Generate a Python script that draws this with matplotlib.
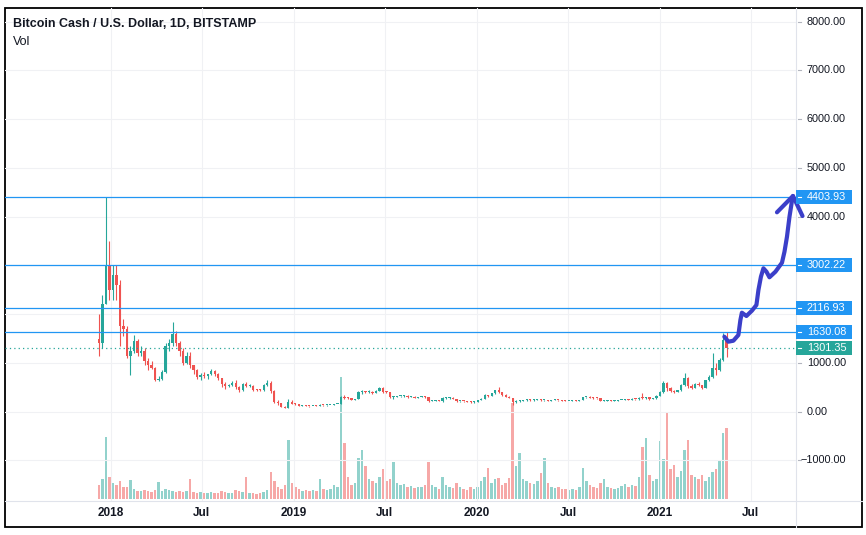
import matplotlib
matplotlib.use("Agg")
import matplotlib.pyplot as plt
import matplotlib.dates as mdates
from matplotlib.patches import Rectangle
import numpy as np
import pandas as pd

plt.rcParams['font.family'] = ['Liberation Sans', 'DejaVu Sans']

# weekly candles, first week starts Mon 4 Dec 2017
first_week = "2017-12-04"
first_open = 1500
closes = [1400, 2200, 3000, 2500, 2800, 2600, 1750, 1700, 1150, 1250,
          1450, 1200, 1250, 1050, 950, 900, 660, 680, 820, 1350,
          1400, 1600, 1400, 1250, 1000, 1150, 950, 850, 720, 760,
          740, 770, 830, 780, 690, 560, 530, 540, 580, 510,
          440, 560, 520, 520, 450, 445, 435, 540, 590, 420,
          200, 170, 105, 85, 190, 165, 155, 120, 125, 122,
          112, 122, 120, 135, 130, 132, 140, 160, 162, 300,
          290, 280, 250, 260, 400, 410, 400, 410, 390, 430,
          480, 410, 400, 300, 310, 315, 320, 330, 300, 310,
          290, 300, 310, 300, 215, 220, 225, 215, 280, 285,
          290, 265, 215, 215, 212, 200, 195, 205, 235, 270,
          345, 320, 380, 440, 400, 350, 310, 285, 200, 210,
          215, 230, 245, 240, 245, 255, 230, 240, 228, 240,
          245, 230, 228, 215, 220, 225, 222, 240, 295, 295,
          290, 280, 275, 220, 225, 230, 220, 222, 235, 245,
          260, 250, 260, 255, 290, 285, 295, 270, 280, 330,
          400, 580, 480, 420, 410, 440, 540, 700, 520, 490,
          560, 540, 490, 640, 720, 900, 850, 1060, 1470, 1301.35]
highs = [2000, 2400, 4404, 3500, 3000, 3000, 2700, 1900, 1750, 1350,
         1580, 1500, 1350, 1300, 1100, 1050, 920, 740, 850, 1400,
         1500, 1850, 1650, 1450, 1300, 1220, 1230, 960, 880, 790,
         820, 780, 880, 860, 800, 700, 600, 570, 620, 650,
         530, 580, 600, 560, 540, 470, 460, 560, 640, 620,
         440, 230, 180, 110, 260, 230, 175, 160, 135, 130,
         125, 125, 128, 155, 140, 135, 145, 165, 165, 330,
         340, 300, 285, 270, 420, 440, 430, 440, 420, 440,
         500, 510, 430, 410, 320, 330, 330, 345, 335, 320,
         315, 310, 320, 320, 305, 235, 235, 230, 295, 300,
         300, 295, 270, 225, 220, 215, 210, 215, 240, 275,
         370, 350, 390, 450, 500, 410, 355, 330, 290, 235,
         240, 240, 270, 255, 255, 270, 270, 250, 245, 245,
         260, 250, 240, 232, 225, 235, 230, 245, 310, 310,
         315, 300, 290, 280, 235, 240, 235, 230, 240, 250,
         270, 270, 275, 270, 300, 380, 310, 300, 290, 340,
         420, 630, 600, 510, 440, 450, 560, 790, 720, 560,
         580, 600, 550, 660, 750, 1200, 1000, 1100, 1610, 1641]
lows = [1150, 1300, 2200, 2300, 2300, 2300, 1350, 1550, 1100, 750,
        1200, 1150, 1150, 950, 850, 880, 620, 620, 640, 800,
        1250, 1350, 1350, 1150, 950, 980, 900, 780, 680, 660,
        700, 680, 760, 740, 640, 500, 470, 500, 520, 470,
        410, 420, 500, 500, 430, 420, 420, 420, 520, 380,
        180, 130, 100, 75, 80, 150, 140, 110, 115, 118,
        105, 110, 115, 118, 125, 124, 128, 138, 155, 160,
        270, 265, 240, 240, 255, 360, 380, 390, 370, 385,
        420, 390, 380, 290, 270, 300, 305, 310, 290, 295,
        285, 285, 295, 290, 200, 210, 210, 210, 205, 270,
        270, 255, 205, 195, 205, 195, 175, 185, 200, 230,
        265, 300, 315, 370, 380, 330, 300, 280, 140, 180,
        205, 210, 225, 225, 225, 235, 220, 215, 225, 220,
        235, 225, 220, 210, 210, 215, 220, 218, 235, 280,
        280, 270, 265, 210, 210, 220, 210, 215, 215, 230,
        240, 245, 235, 240, 250, 260, 270, 250, 260, 270,
        320, 390, 420, 400, 390, 400, 430, 530, 480, 470,
        480, 520, 470, 480, 620, 700, 750, 840, 1040, 1128]
# volume, arbitrary units (tallest spike = early April 2019)
volumes = [14, 20, 62, 22, 16, 14, 18, 12, 12, 19,
           10, 8, 8, 9, 8, 7, 9, 17, 8, 10,
           9, 8, 7, 8, 7, 8, 20, 7, 6, 7,
           6, 6, 7, 6, 6, 8, 7, 6, 6, 9,
           8, 7, 22, 6, 6, 5, 6, 7, 9, 27,
           18, 12, 10, 14, 59, 16, 12, 10, 8, 9,
           8, 9, 8, 20, 10, 9, 10, 14, 12, 122,
           56, 22, 14, 16, 41, 49, 33, 20, 18, 16,
           22, 30, 18, 20, 37, 16, 14, 15, 12, 13,
           11, 12, 12, 14, 37, 14, 12, 10, 22, 14,
           12, 11, 16, 12, 10, 9, 12, 10, 12, 18,
           22, 31, 16, 20, 21, 14, 16, 21, 96, 33,
           46, 20, 18, 16, 15, 18, 26, 41, 16, 12,
           11, 12, 10, 10, 9, 10, 9, 12, 31, 18,
           14, 12, 11, 16, 20, 12, 11, 10, 11, 13,
           15, 12, 14, 13, 22, 52, 61, 24, 18, 20,
           58, 40, 86, 30, 34, 22, 28, 49, 59, 24,
           22, 20, 24, 18, 22, 27, 30, 38, 66, 71]

level_lines = [4403.93, 3002.22, 2116.93, 1630.08]
last_price = 1301.35
price_ticks = [8000, 7000, 6000, 5000, 4000, 3000, 2000, 1000, 0, -1000]
covered_ticks = [3000, 2000]   # labels hidden behind the level boxes
time_ticks = ["2018-01-01", "2018-07-01", "2019-01-01", "2019-07-01",
              "2020-01-01", "2020-07-01", "2021-01-01", "2021-07-01"]
time_labels = ["2018", "Jul", "2019", "Jul", "2020", "Jul", "2021", "Jul"]

# hand drawn projection
sketch_dates = ["2021-05-09", "2021-05-17", "2021-05-27", "2021-06-06", "2021-06-10",
                "2021-06-13", "2021-06-22", "2021-07-03", "2021-07-12", "2021-07-16",
                "2021-07-21", "2021-07-26", "2021-08-01", "2021-08-07", "2021-08-19",
                "2021-09-01", "2021-09-06", "2021-09-11", "2021-09-16", "2021-09-21",
                "2021-09-23"]
sketch_prices = [1538, 1436, 1456, 1573, 1881, 2031, 1963, 2072, 2189, 2496,
                 2769, 2941, 2872, 2757, 2872, 3056, 3282, 3590, 4000, 4328, 4425]
head_dates = ["2021-08-22", "2021-09-23", "2021-10-12"]
head_prices = [4090, 4425, 4014]

UP = '#26a69a'
DOWN = '#ef5350'
BLUE = '#2196f3'
TXT = '#131722'

W, H = 866, 535
fig = plt.figure(figsize=(W / 100, H / 100), dpi=100)

def rect(x0, y0, x1, y1):
    return [x0 / W, 1 - y1 / H, (x1 - x0) / W, (y1 - y0) / H]

# frame, separators
frame = fig.add_axes([0, 0, 1, 1])
frame.set_xlim(0, W)
frame.set_ylim(H, 0)
frame.axis('off')
frame.add_patch(Rectangle((5, 8), 857, 519, fill=False, ec='black', lw=1.3))
frame.plot([796, 796], [8, 527], color='#e0e3eb', lw=0.8)
frame.plot([5, 862], [501, 501], color='#e0e3eb', lw=0.8)

plot_rect = rect(5, 8, 796, 501)
ax_vol = fig.add_axes(plot_rect)
ax = fig.add_axes(plot_rect, sharex=ax_vol)
ax.patch.set_visible(False)

x_left = mdates.datestr2num("2017-06-03")
x_right = mdates.datestr2num("2021-09-29")
ax.set_xlim(x_left, x_right)
ax.set_ylim(-1832, 8281)
ax_vol.set_ylim(-2, 491)

o = np.array([first_open] + closes[:-1], dtype=float)
c = np.array(closes, dtype=float)
hi = np.array(highs, dtype=float)
lo = np.array(lows, dtype=float)
weeks = pd.date_range(first_week, periods=len(closes), freq="7D")
xc = mdates.date2num(weeks.to_pydatetime()) + 3.5
up = c >= o
cols = np.where(up, UP, DOWN)

# volume
vcols = [(0.149, 0.651, 0.604, 0.5) if u else (0.937, 0.325, 0.314, 0.5) for u in up]
ax_vol.bar(xc, volumes, width=5.0, color=vcols, linewidth=0)
ax_vol.axis('off')

# grid
tnums = [mdates.datestr2num(t) for t in time_ticks]
ax.set_xticks(tnums)
ax.set_yticks(price_ticks)
ax.grid(True, color='#f0f1f4', lw=0.8)
ax.tick_params(length=0, labelleft=False, labelbottom=False)
for s in ax.spines.values():
    s.set_visible(False)
ax_vol.set_zorder(1)
ax.set_zorder(2)

# candles
px_per_unit = 493 / (8281 + 1832)
min_body = 1.0 / px_per_unit
ax.vlines(xc, lo, hi, colors=cols, lw=0.8, zorder=3)
ax.bar(xc, np.maximum(np.abs(c - o), min_body), bottom=np.minimum(o, c),
       width=4.5, color=cols, linewidth=0, zorder=4)

# levels
for v in level_lines:
    ax.axhline(v, color=BLUE, lw=0.9, zorder=5)
ax.axhline(last_price, color=UP, lw=0.9, linestyle=(0, (1, 2.5)), zorder=5)

# sketch
sd = [mdates.datestr2num(d) for d in sketch_dates]
hd = [mdates.datestr2num(d) for d in head_dates]
ax.plot(sd, sketch_prices, color='#3b3fc9', lw=3, solid_capstyle='round',
        solid_joinstyle='round', clip_on=False, zorder=8)
ax.plot(hd, head_prices, color='#3b3fc9', lw=3, solid_capstyle='round',
        solid_joinstyle='round', clip_on=False, zorder=8)

# price scale
ytr = ax.get_yaxis_transform()
def ax_x(px):
    return (px - 5) / 791

def fmt(v):
    s = f"{abs(v):.2f}"
    return ("\u2212" + s) if v < 0 else s

for v in price_ticks:
    ax.plot([ax_x(797.5), ax_x(800.5)], [v, v], transform=ytr, color='#b2b5be',
            lw=0.8, clip_on=False, zorder=6)
    if v in covered_ticks:
        continue
    xpos = ax_x(800.7) if v < 0 else ax_x(806.7)
    ax.text(xpos, v, fmt(v), transform=ytr, ha='left', va='center',
            fontsize=7.8, color=TXT, clip_on=False, zorder=6)

hh = 7 / px_per_unit
for v, fc in [(l, BLUE) for l in level_lines] + [(last_price, UP)]:
    ax.add_patch(Rectangle((1.0, v - hh), ax_x(852) - 1.0, 2 * hh, transform=ytr,
                           fc=fc, ec='none', clip_on=False, zorder=9))
    ax.plot([ax_x(797.5), ax_x(800.5)], [v, v], transform=ytr, color='white',
            lw=0.8, clip_on=False, zorder=10)
    ax.text(ax_x(806.7), v, f"{v:.2f}", transform=ytr, ha='left', va='center',
            fontsize=7.8, color='white', clip_on=False, zorder=10)

# time scale
xtr = ax.get_xaxis_transform()
for t, lab in zip(tnums, time_labels):
    ax.text(t, -(513 - 501) / 493, lab, transform=xtr, ha='center', va='center',
            fontsize=8.5, fontweight='bold', color=TXT, clip_on=False)

ax.text(ax_x(13), 1 - (24 - 8) / 493, "Bitcoin Cash / U.S. Dollar, 1D, BITSTAMP",
        transform=ax.transAxes, fontsize=9, fontweight='bold', color=TXT,
        va='center', zorder=10)
ax.text(ax_x(13), 1 - (42 - 8) / 493, "Vol", transform=ax.transAxes,
        fontsize=9, color=TXT, va='center', zorder=10)

fig.savefig("out.png", dpi=100)
